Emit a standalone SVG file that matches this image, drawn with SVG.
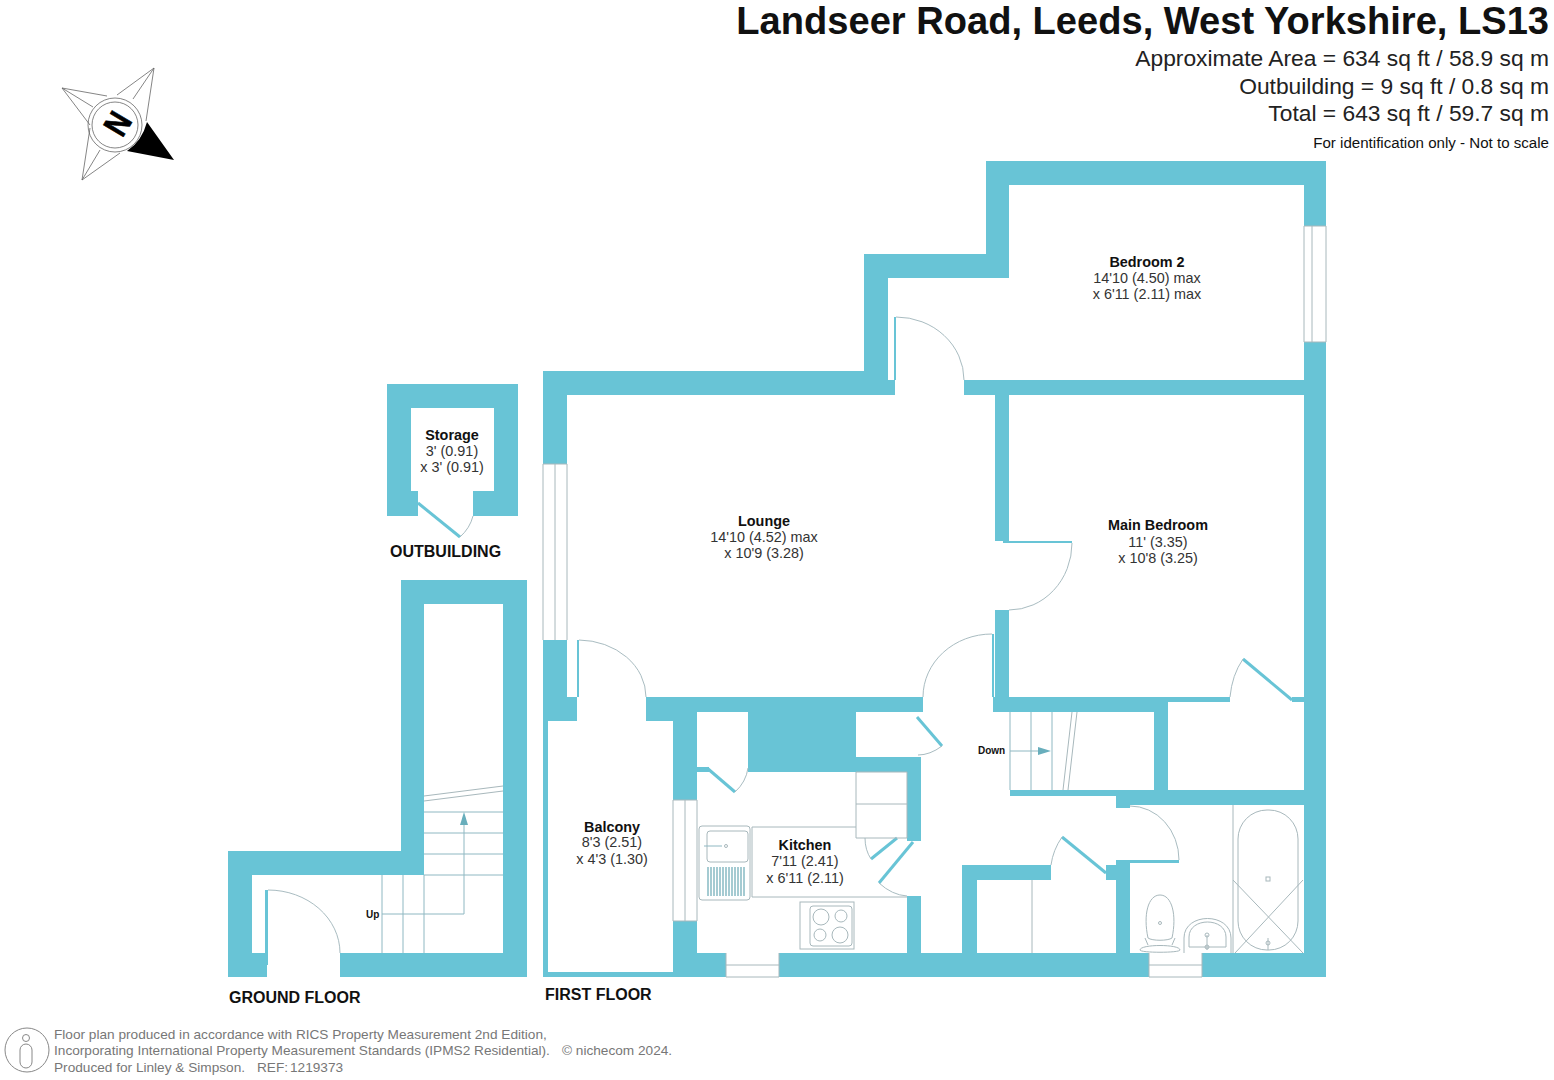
<svg xmlns="http://www.w3.org/2000/svg" width="1554" height="1080" viewBox="0 0 1554 1080">
<defs><style>
text{font-family:"Liberation Sans",Arial,sans-serif;fill:#111}
.w{fill:#68c4d6}
.l{fill:none;stroke:#8fb8c2;stroke-width:1}
.a{fill:none;stroke:#a9bcc1;stroke-width:1}
.f{fill:none;stroke:#a8b8bc;stroke-width:1}
.leaf{fill:none;stroke:#68c4d6;stroke-width:3}
.r{font-size:14.4px;text-anchor:middle;fill:#333}
.b{font-size:14.4px;font-weight:bold;text-anchor:middle;fill:#111}
.h{font-size:22.8px;text-anchor:end;fill:#222}
.fl{font-size:16px;font-weight:bold}
.ft{font-size:13.65px;fill:#777}
.c{fill:none;stroke:#666;stroke-width:.8}
</style></defs>
<rect width="1554" height="1080" fill="#fff"/>
<g id="title">
<text x="1549" y="34" font-size="38.1" font-weight="bold" text-anchor="end">Landseer Road, Leeds, West Yorkshire, LS13</text>
<text class="h" x="1549" y="66">Approximate Area = 634 sq ft / 58.9 sq m</text>
<text class="h" x="1549" y="94">Outbuilding = 9 sq ft / 0.8 sq m</text>
<text class="h" x="1549" y="121">Total = 643 sq ft / 59.7 sq m</text>
<text x="1549" y="148" font-size="15.1" text-anchor="end" fill="#333">For identification only - Not to scale</text>
</g>
<g id="compass">
<path class="c" d="M117 95L154 68L146 121M133 99L154 68M107 96L62 88L90 125M93 107L62 88M90 128L82 180L120 153M100 150L82 180"/>
<path d="M147 122L174 160L127 151Q142 141 147 122Z" fill="#000"/>
<circle class="c" cx="115" cy="125" r="27"/>
<circle class="c" cx="115" cy="125" r="23"/>
<text transform="translate(118 124) rotate(121) scale(.85 1)" x="0" y="12" font-size="34" font-weight="bold" text-anchor="middle" style="fill:#000;stroke:#000;stroke-width:.6">N</text>
</g>
<g id="outbuilding">
<path class="w" fill-rule="evenodd" d="M387 384H518V516H473V491H418V516H387ZM411 408V491H494V408Z"/>
<path class="leaf" d="M418 503L460 537"/>
<path class="a" d="M460 537Q470 528 473 516"/>
<text class="b" x="452" y="440">Storage</text>
<text class="r" x="452" y="456">3' (0.91)</text>
<text class="r" x="452" y="472">x 3' (0.91)</text>
<text class="fl" x="390" y="557">OUTBUILDING</text>
</g>
<g id="ground-floor">
<path class="w" d="M401 580H527V977H340V953H503V604H424V875H252V953H267V977H228V851H401Z"/>
<rect class="w" x="265" y="890" width="3" height="75"/>
<path class="a" d="M268 890A72 63 0 0 1 340 953"/>
<path class="l" d="M424 875H503M424 854H503M424 833H503M424 812H503M382 875V953M403 875V953M424 875V953M382 914H464V825"/>
<path class="f" d="M424 796L503 786M424 801L503 791"/>
<path d="M464 812L460 825H468Z" fill="#68aebc"/>
<text x="366" y="918" font-size="10" font-weight="bold">Up</text>
<text class="fl" x="229" y="1003">GROUND FLOOR</text>
</g>
<g id="first-floor-walls">
<rect class="w" x="986" y="161" width="340" height="24"/>
<rect class="w" x="986" y="161" width="23" height="117"/>
<rect class="w" x="864" y="254" width="145" height="24"/>
<rect class="w" x="864" y="254" width="24" height="141"/>
<rect class="w" x="543" y="371" width="345" height="24"/>
<rect class="w" x="888" y="380" width="7" height="15"/>
<rect class="w" x="964" y="380" width="340" height="15"/>
<rect class="w" x="995" y="395" width="14" height="146"/>
<rect class="w" x="1304" y="161" width="22" height="65"/>
<rect class="w" x="1304" y="342" width="22" height="635"/>
<rect class="w" x="543" y="371" width="24" height="93"/>
<rect class="w" x="543" y="640" width="24" height="81"/>
<rect class="w" x="543" y="697" width="34" height="24"/>
<rect class="w" x="543" y="721" width="5" height="256"/>
<rect class="w" x="543" y="972" width="135" height="5"/>
<rect class="w" x="646" y="697" width="277" height="15"/>
<rect class="w" x="646" y="697" width="51" height="24"/>
<rect class="w" x="673" y="697" width="24" height="103"/>
<rect class="w" x="673" y="921" width="24" height="56"/>
<rect class="w" x="748" y="712" width="108" height="60"/>
<rect class="w" x="697" y="767" width="12" height="5"/>
<rect class="w" x="856" y="757" width="65" height="15"/>
<rect class="w" x="907" y="757" width="14" height="84"/>
<rect class="w" x="907" y="896" width="14" height="60"/>
<rect class="w" x="697" y="953" width="29" height="24"/>
<rect class="w" x="779" y="953" width="370" height="24"/>
<rect class="w" x="1202" y="953" width="124" height="24"/>
<rect class="w" x="995" y="610" width="14" height="102"/>
<rect class="w" x="993" y="697" width="175" height="15"/>
<rect class="w" x="1154" y="697" width="14" height="108"/>
<rect class="w" x="1168" y="697" width="62" height="5"/>
<rect class="w" x="1292" y="697" width="12" height="5"/>
<rect class="w" x="1010" y="790" width="294" height="6"/>
<rect class="w" x="1116" y="790" width="188" height="15"/>
<rect class="w" x="1116" y="796" width="14" height="12"/>
<rect class="w" x="1125" y="860" width="54" height="3"/>
<rect class="w" x="1116" y="860" width="14" height="117"/>
<rect class="w" x="1106" y="865" width="24" height="15"/>
<rect class="w" x="962" y="865" width="89" height="15"/>
<rect class="w" x="962" y="865" width="15" height="112"/>
<rect class="w" x="577" y="640" width="2" height="57"/>
<rect class="w" x="894" y="317" width="2" height="63"/>
<rect class="w" x="1003" y="541" width="69" height="2"/>
<rect class="w" x="992" y="634" width="2" height="63"/>
</g>
<g id="windows">
<path class="f" d="M1304 226V342M1312 226V342M1326 226V342M1304 226H1326M1304 342H1326"/>
<path class="f" d="M543 464V640M555 464V640M567 464V640M543 464H567"/>
<path class="f" d="M673 800V921M685 800V921M697 800V921M673 800H697M673 921H697"/>
<path class="f" d="M726 953V977M779 953V977M726 965H779M726 977H779"/>
<path class="f" d="M1149 953V977M1202 953V977M1149 965H1202M1149 977H1202"/>
</g>
<g id="doors">
<path class="a" d="M896 317A68 63 0 0 1 964 380"/>
<path class="a" d="M1072 543A63 67 0 0 1 1009 610"/>
<path class="a" d="M992 634A69 63 0 0 0 923 697"/>
<path class="a" d="M579 640A68 57 0 0 1 646 697"/>
<path class="leaf" d="M917 717L942 746"/>
<path class="a" d="M942 746Q930 755 918 755"/>
<path class="leaf" d="M707 768L735 792"/>
<path class="a" d="M735 792Q746 782 748 768"/>
<path class="leaf" d="M871 859L897 838"/>
<path class="a" d="M871 859Q865 850 865 838"/>
<path class="leaf" d="M879 883L913 842"/>
<path class="a" d="M879 883Q892 895 907 896"/>
<path class="leaf" d="M1243 659L1292 700"/>
<path class="a" d="M1243 659Q1232 675 1230 697"/>
<path class="leaf" d="M1062 837L1106 873"/>
<path class="a" d="M1062 837Q1053 850 1051 865"/>
<path class="a" d="M1130 806A49 54 0 0 1 1179 860"/>
</g>
<g id="fixtures">
<path class="f" d="M752 827H856M752 827V897M752 897H907"/>
<path class="f" d="M856 772H907V838H856ZM856 804H907"/>
<rect class="f" x="699" y="826" width="51" height="74" rx="3"/>
<rect class="f" x="707" y="831" width="41" height="31" rx="3"/>
<path class="l" d="M704 846H722"/>
<circle class="f" cx="726" cy="846" r="1.5"/>
<path d="M708 867V896M711 867V896M714 867V896M717 867V896M720 867V896M723 867V896M726 867V896M729 867V896M732 867V896M735 867V896M738 867V896M741 867V896M744 867V896" fill="none" stroke="#6aa9b5" stroke-width="1.2"/>
<rect class="f" x="800" y="902" width="54" height="47"/>
<rect class="f" x="810" y="906" width="42" height="40" rx="3"/>
<circle class="f" cx="821" cy="917" r="8"/><circle class="f" cx="841" cy="916" r="6"/><circle class="f" cx="820" cy="935" r="6"/><circle class="f" cx="840" cy="935" r="8"/>
<path class="l" d="M1010 712V790M1031 712V790M1052 712V790M1010 751H1038"/>
<path d="M1051 751L1038 747V755Z" fill="#68aebc"/>
<path class="f" d="M1072 712L1063 790M1077 712L1068 790"/>
<path class="f" d="M1032 880V953"/>
<path class="f" d="M1233 805V953"/>
<rect class="f" x="1238" y="810" width="60" height="140" rx="29"/>
<path class="f" d="M1233 880L1303 953M1303 880L1235 953"/>
<rect class="f" x="1266" y="877" width="4" height="4"/>
<path class="f" d="M1268 938V950"/>
<circle class="f" cx="1268" cy="943" r="2"/>
<path class="f" d="M1148 938C1143 915 1148 895 1160 895C1172 895 1177 915 1172 938C1168 941 1152 941 1148 938Z"/>
<circle class="f" cx="1160" cy="923" r="1.5"/>
<path class="f" d="M1145 938L1148 945M1175 938L1172 945M1140 950C1140 944 1180 944 1180 950C1180 953 1140 953 1140 950Z"/>
<path class="f" d="M1184 953V938C1184 912 1231 912 1231 938V953M1189 947V937C1189 917 1226 917 1226 937V947H1189Z"/>
<path class="f" d="M1207 935V950"/>
<circle class="f" cx="1207" cy="935" r="2"/>
<circle class="f" cx="1207" cy="947" r="2"/>
</g>
<g id="labels">
<text class="b" x="1147" y="267">Bedroom 2</text>
<text class="r" x="1147" y="283">14'10 (4.50) max</text>
<text class="r" x="1147" y="299">x 6'11 (2.11) max</text>
<text class="b" x="764" y="526">Lounge</text>
<text class="r" x="764" y="542">14'10 (4.52) max</text>
<text class="r" x="764" y="558">x 10'9 (3.28)</text>
<text class="b" x="1158" y="530">Main Bedroom</text>
<text class="r" x="1158" y="547">11' (3.35)</text>
<text class="r" x="1158" y="563">x 10'8 (3.25)</text>
<text class="b" x="612" y="832">Balcony</text>
<text class="r" x="612" y="847">8'3 (2.51)</text>
<text class="r" x="612" y="864">x 4'3 (1.30)</text>
<text class="b" x="805" y="850">Kitchen</text>
<text class="r" x="805" y="866">7'11 (2.41)</text>
<text class="r" x="805" y="883">x 6'11 (2.11)</text>
<text x="978" y="754" font-size="10" font-weight="bold">Down</text>
<text class="fl" x="545" y="1000">FIRST FLOOR</text>
</g>
<g id="footer">
<ellipse cx="27" cy="1050" rx="22" ry="22" fill="none" stroke="#888" stroke-width="1"/>
<circle cx="26" cy="1038" r="3.5" fill="none" stroke="#888"/>
<rect x="20" y="1044" width="12" height="24" rx="6" fill="none" stroke="#888"/>
<text class="ft" x="54" y="1039">Floor plan produced in accordance with RICS Property Measurement 2nd Edition,</text>
<text class="ft" x="54" y="1055">Incorporating International Property Measurement Standards (IPMS2 Residential).</text>
<text class="ft" x="54" y="1072">Produced for Linley &amp; Simpson.<tspan x="257">REF:</tspan><tspan x="290">1219373</tspan></text>
<text class="ft" x="562" y="1055">© nichecom 2024.</text>
</g>
</svg>
